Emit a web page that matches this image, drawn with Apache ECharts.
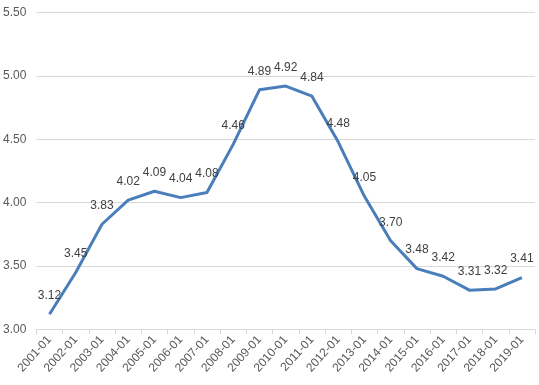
<!DOCTYPE html>
<html><head><meta charset="utf-8">
<script src="https://cdn.jsdelivr.net/npm/echarts@6/dist/echarts.min.js"></script>
<style>html,body{margin:0;padding:0;background:#fff}#c{width:539px;height:385px}</style>
</head><body><div id="c"></div>
<script>
const categories = ["2001-01","2002-01","2003-01","2004-01","2005-01","2006-01","2007-01","2008-01","2009-01","2010-01","2011-01","2012-01","2013-01","2014-01","2015-01","2016-01","2017-01","2018-01","2019-01"];
const values = [3.12,3.45,3.83,4.02,4.09,4.04,4.08,4.46,4.89,4.92,4.84,4.48,4.05,3.70,3.48,3.42,3.31,3.32,3.41];
const yMin = 3.0, yMax = 5.5, yStep = 0.5;
const chart = echarts.init(document.getElementById('c'), null, {renderer:'canvas'});
const font = '"Liberation Sans", Arial, sans-serif';
chart.setOption({
  animation:false,
  grid:{left:36,right:4,top:12.5,bottom:55.5,containLabel:false},
  xAxis:{type:'category',data:categories,boundaryGap:true,
    axisLine:{lineStyle:{color:'#d9d9d9',width:1}},
    axisTick:{show:true,length:5,lineStyle:{color:'#d9d9d9'}},
    axisLabel:{rotate:48,color:'#595959',fontSize:12,fontFamily:font,margin:8,interval:0}},
  yAxis:{type:'value',min:yMin,max:yMax,interval:yStep,
    axisLine:{show:false},axisTick:{show:false},
    splitLine:{lineStyle:{color:'#d9d9d9',width:1}},
    axisLabel:{formatter:v=>v.toFixed(2),color:'#595959',fontSize:12,fontFamily:font,margin:10}},
  series:[{type:'line',data:values,showSymbol:true,symbol:'circle',symbolSize:1,
    itemStyle:{color:'rgba(0,0,0,0)'},
    lineStyle:{color:'#4a7ebb',width:3,join:'round'},
    label:{show:true,position:'top',distance:12,color:'#404040',fontSize:12,fontFamily:font,formatter:p=>p.value.toFixed(2)}}]
});
</script></body></html>
